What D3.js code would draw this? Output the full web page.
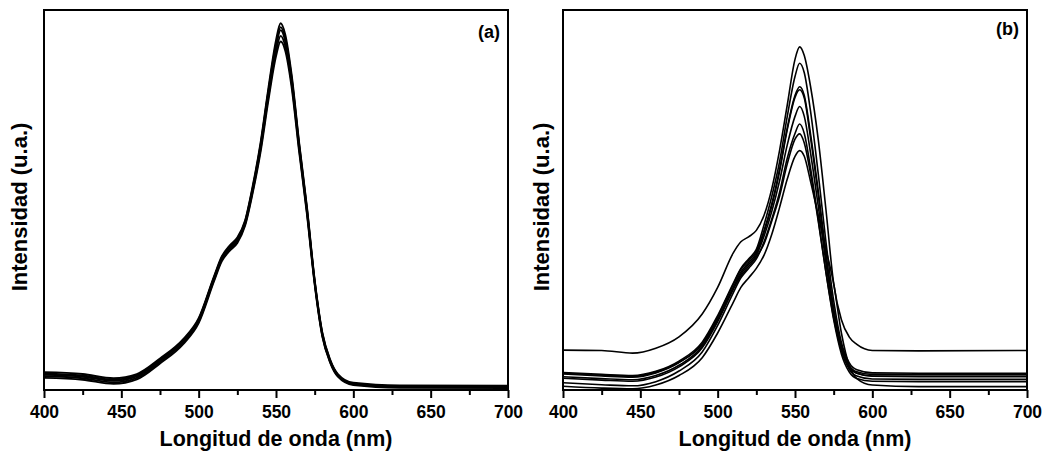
<!DOCTYPE html>
<html>
<head>
<meta charset="utf-8">
<script src="https://cdn.jsdelivr.net/npm/d3@7"></script>
<style>
  body { margin: 0; background: #fff; }
  text { font-family: "Liberation Sans", Arial, sans-serif; font-weight: bold; fill: #000; }
</style>
</head>
<body>
<div id="chart"></div>
<script>
// wavelength grid (nm), shared by every spectrum
const wavelength = [400, 425, 445, 460, 475, 490, 500, 510, 515, 520, 525, 530, 535, 540, 545,
                    550, 553, 556, 560, 565, 570, 575, 580, 585, 590, 600, 630, 700];
const xTicks = [400, 450, 500, 550, 600, 650, 700];
const xMinor = [425, 475, 525, 575, 625, 675];

// panel (a) spectra, intensity in arbitrary units
const specA1 = [4.7, 4.2, 3.1, 4.2, 8.3, 13.4, 18.9, 30, 35.2, 38, 40.1, 44.6, 53.8, 65, 79.2, 92, 96.5, 93.5, 83.3, 65, 48.2, 29, 15, 8, 4.2, 1.9, 1.2, 1.1];
const specA2 = [4.3, 3.8, 2.7, 3.9, 8.0, 13.1, 18.6, 29.7, 34.9, 37.7, 39.8, 44.3, 53.4, 64.5, 78.5, 91, 95.5, 92.5, 82.5, 64.5, 47.8, 28.7, 14.8, 7.8, 4.0, 1.7, 1.0, 0.9];
const specA3 = [4.0, 3.5, 2.4, 3.6, 7.8, 12.9, 18.4, 29.5, 34.7, 37.4, 39.5, 44, 53, 64, 78, 90.3, 94.7, 91.8, 82, 64, 47.4, 28.5, 14.5, 7.6, 3.9, 1.6, 0.9, 0.8];
const specA4 = [3.6, 3.1, 2.0, 3.2, 7.4, 12.5, 18.0, 29.1, 34.3, 37.0, 39.1, 43.6, 52.5, 63.3, 77, 89, 93.2, 90.5, 81, 63.3, 46.8, 28.1, 14.2, 7.4, 3.7, 1.5, 0.8, 0.7];
const specA5 = [3.2, 2.7, 1.6, 2.8, 7.0, 12.1, 17.6, 28.7, 33.9, 36.6, 38.7, 43.2, 52, 62.6, 76, 87.8, 91.7, 89.3, 80, 62.6, 46.3, 27.8, 14.0, 7.2, 3.5, 1.3, 0.6, 0.5];

// panel (b) spectra
const specB1 = [10.5, 10.4, 9.7, 11, 14, 20, 27, 36, 39, 40.3, 42, 46, 53, 63, 75, 87, 90.3, 88, 80, 66, 47.5, 28, 18.5, 14, 12, 10.4, 10.3, 10.4];
const specB2 = [4.6, 4.1, 3.8, 4.9, 7.6, 12.6, 19.6, 28, 32, 34.5, 37, 43.5, 51, 60, 72, 82.5, 86, 83.5, 73.5, 57, 39, 23.5, 12.5, 7.2, 5.3, 4.5, 4.4, 4.4];
const specB3 = [4.2, 3.7, 3.4, 4.5, 7.2, 12.2, 19.2, 27.7, 31.7, 34, 36.5, 42, 49, 58, 69, 77.5, 79.8, 77.5, 67.5, 52.5, 36, 21.5, 11.5, 6.3, 4.4, 3.6, 3.5, 3.5];
const specB4 = [3.5, 3.0, 2.7, 3.8, 6.5, 11.5, 18.5, 27, 31, 33.5, 36, 41.5, 48.5, 57.5, 68.5, 77, 79, 76.8, 66.5, 51.5, 35, 20.5, 10.5, 5.5, 3.7, 2.9, 2.8, 2.8];
const specB5 = [3.1, 2.6, 2.3, 3.4, 6.1, 11.1, 18, 26.5, 30.5, 33, 35.5, 40.5, 47, 55, 64.5, 72, 74.6, 72, 62.5, 48.5, 33.5, 20.5, 11.5, 6.5, 4.8, 4.1, 4.0, 4.0];
const specB6 = [1.9, 1.4, 1.1, 2.2, 5, 10, 17, 25.5, 29.5, 32, 34.5, 39, 45, 52, 61, 67.5, 70, 67.5, 58.5, 45, 31, 18.5, 9.5, 4.8, 3, 2.3, 2.2, 2.2];
const specB7 = [4.4, 3.9, 3.6, 4.7, 7.3, 12, 18.5, 26.5, 30, 32.5, 35, 38.5, 44.5, 51, 59.5, 66, 67.4, 65, 57, 44.5, 31, 19, 10.5, 6, 4.4, 3.7, 3.6, 3.6];
const specB8 = [1.0, 0.5, 0.3, 1.3, 3.8, 8.5, 15, 23, 27, 29.5, 32, 35.5, 41, 48, 55.5, 61.5, 63, 61.5, 55, 46, 37, 28, 15, 6.5, 3, 1.3, 0.9, 0.9];

const xTitle = "Longitud de onda (nm)";
const yTitle = "Intensidad (u.a.)";

// append the svg object to the body of the page
const svg = d3.select("#chart")
  .append("svg")
    .attr("width", 1042)
    .attr("height", 451);

const plotW = 464, plotH = 380, plotTop = 10;

function drawPanel(left, series, tag, tagY, yTitleX, strokeW) {
  const g = svg.append("g")
    .attr("transform", "translate(" + left + "," + plotTop + ")");

  const x = d3.scaleLinear().domain([400, 700]).range([0, plotW]);
  const y = d3.scaleLinear().domain([0, 100]).range([plotH, 0]);

  const line = d3.line()
    .x((d, i) => x(wavelength[i]))
    .y(d => y(d))
    .curve(d3.curveMonotoneX);

  g.selectAll("path.spec")
    .data(series)
    .enter()
    .append("path")
      .attr("class", "spec")
      .attr("d", line)
      .attr("fill", "none")
      .attr("stroke", "#000")
      .attr("stroke-width", strokeW);

  // bottom axis, major ticks with labels
  const ax = g.append("g")
    .attr("transform", "translate(0," + plotH + ")")
    .call(d3.axisBottom(x).tickValues(xTicks).tickSize(8).tickPadding(8).tickFormat(d3.format("d")));
  ax.select(".domain").remove();
  ax.selectAll("line").attr("stroke", "#000").attr("stroke-width", 2);
  ax.attr("font-size", 17.5);

  // minor ticks
  const mx = g.append("g")
    .attr("transform", "translate(0," + plotH + ")")
    .call(d3.axisBottom(x).tickValues(xMinor).tickSize(5).tickFormat(""));
  mx.select(".domain").remove();
  mx.selectAll("line").attr("stroke", "#000").attr("stroke-width", 2);

  // frame
  g.append("rect")
    .attr("width", plotW)
    .attr("height", plotH)
    .attr("fill", "none")
    .attr("stroke", "#000")
    .attr("stroke-width", 2);

  // titles
  g.append("text")
    .attr("x", plotW / 2)
    .attr("y", plotH + 56)
    .attr("text-anchor", "middle")
    .attr("font-size", 21.5)
    .text(xTitle);

  g.append("text")
    .attr("transform", "translate(" + (yTitleX - left) + "," + (207 - plotTop) + ") rotate(-90)")
    .attr("text-anchor", "middle")
    .attr("font-size", 22)
    .text(yTitle);

  g.append("text")
    .attr("x", plotW - 8)
    .attr("y", tagY - plotTop)
    .attr("text-anchor", "end")
    .attr("font-size", 18)
    .text(tag);
}

drawPanel(44, [specA1, specA2, specA3, specA4, specA5], "(a)", 38, 27, 1.9);
drawPanel(563, [specB1, specB2, specB3, specB4, specB5, specB6, specB7, specB8], "(b)", 35, 549, 1.6);
</script>
</body>
</html>
